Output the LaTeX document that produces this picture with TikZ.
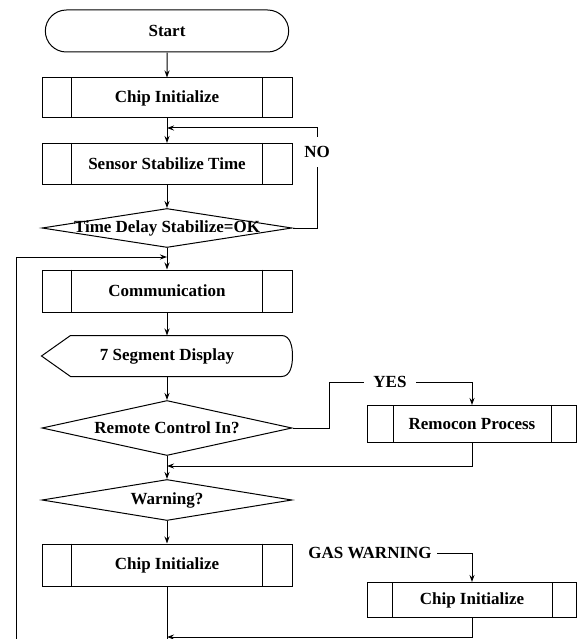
\documentclass[tikz,border=0pt]{standalone}
\usepackage{fontspec}
\setmainfont{Liberation Serif}
\usetikzlibrary{shapes.geometric,shapes.misc,calc,arrows.meta}

\begin{document}
\begin{tikzpicture}[x=1pt,y=-1pt,line width=1pt,
  every node/.style={font=\bfseries\fontsize{17}{20}\selectfont},
  box/.style={draw, rectangle, minimum width=250pt, minimum height=41pt, inner sep=0pt},
  subbox/.style={draw, rectangle, minimum width=209pt, minimum height=36pt, inner sep=0pt},
  decide/.style={draw, diamond, minimum width=250pt, inner sep=0pt},
  flow/.style={draw, -{Stealth[length=7pt,width=5pt]}}]
\useasboundingbox (0,0) rectangle (578,639);

\node[draw, rounded rectangle, minimum width=250pt, minimum height=42pt] (start) at (167,31) {Start};
\node[box, minimum height=40pt] (chipa) at (167,98) {Chip Initialize};
\node[box] (sensor) at (167,164) {Sensor Stabilize Time};
\node[decide, minimum height=39pt, label=center:{Time Delay Stabilize=OK}] (delay) at (167,228) {};
\node[box, minimum height=42pt] (comm) at (167,291) {Communication};
\node[rectangle, minimum width=250pt, minimum height=40pt, inner sep=0pt] (seg) at (167,356) {7 Segment Display};
\node[decide, minimum height=55pt, label=center:{Remote Control In?}] (remote) at (167,428) {};
\node[subbox, minimum height=37pt] (remocon) at (472,424) {Remocon Process};
\node[decide, minimum height=41pt, label=center:{Warning?}] (warn) at (167,500) {};
\node[box, minimum height=42pt] (chipb) at (167,565) {Chip Initialize};
\node[subbox, minimum height=35pt] (chipc) at (472,600) {Chip Initialize};

\node[inner xsep=2pt, inner ysep=9pt] (no) at (317,152) {NO};
\node[inner xsep=9pt] (yes) at (390,382) {YES};
\node[inner xsep=5pt] (gas) at (370,553) {GAS WARNING};

\coordinate (loopa) at (167,128);
\coordinate (loopb) at (167,257);
\coordinate (loopc) at (167,466);
\coordinate (loopd) at (167,637);
\coordinate (edge) at (16,639);
\coordinate (bottom) at (167,639);

% display outline
\path[draw] (seg.west) -- ($(seg.north west)+(29,0)$) -- ($(seg.north east)+(-11,0)$)
  to[out=0,in=90] (seg.east) to[out=-90,in=0] ($(seg.south east)+(-11,0)$)
  -- ($(seg.south west)+(29,0)$) -- cycle;

% side bars of the process boxes
\foreach \n/\d in {chipa/30,sensor/30,comm/30,chipb/30,remocon/26,chipc/25} {
  \draw ($(\n.north west)+(\d,0)$) -- ($(\n.south west)+(\d,0)$);
  \draw ($(\n.north east)+(-\d,0)$) -- ($(\n.south east)+(-\d,0)$);
}

\path[flow] (start) -- (chipa);
\path[flow] (chipa) -- (sensor);
\path[flow] (sensor) -- (delay);
\path[draw] (delay.east) -| (no.south);
\path[flow] (no.north) |- (loopa);
\path[flow] (delay) -- (comm);
\path[flow] (edge) |- (loopb);
\path[flow] (comm) -- (seg);
\path[flow] (seg) -- (remote);
\path[draw] (remote.east) -- ++(37,0) |- (yes.west);
\path[flow] (yes.east) -| (remocon.north);
\path[flow] (remocon.south) |- (loopc);
\path[flow] (remote) -- (warn);
\path[flow] (warn) -- (chipb);
\path[flow] (gas.east) -| (chipc.north);
\path[flow] (chipc.south) |- (loopd);
\path[draw] (chipb.south) -- (bottom);
\end{tikzpicture}
\end{document}
